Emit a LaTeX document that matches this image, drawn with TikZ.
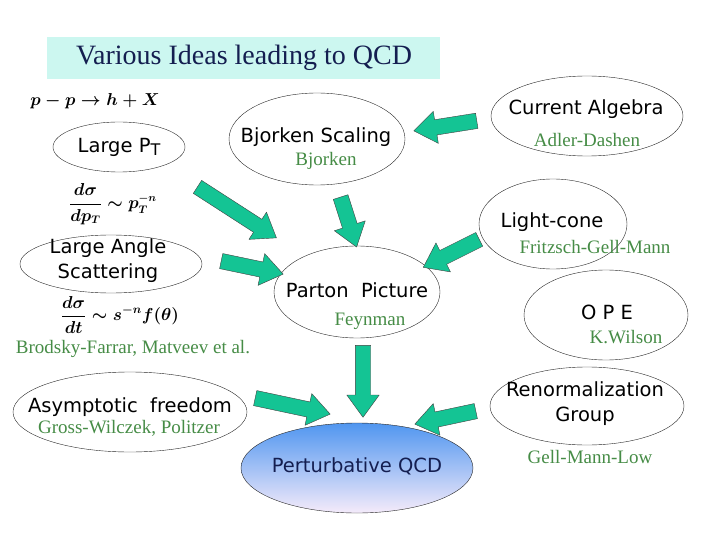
\documentclass[tikz,border=0pt]{standalone}
\usepackage{fontspec}
\setmainfont{Liberation Serif}
\setsansfont{DejaVu Sans}
\usetikzlibrary{shapes.geometric,shapes.arrows,calc}
\definecolor{titlebg}{RGB}{204,247,240}
\definecolor{titleink}{RGB}{20,30,80}
\definecolor{namegreen}{RGB}{70,140,70}
\definecolor{arrowgreen}{RGB}{20,196,148}
\definecolor{qcdtop}{RGB}{80,150,240}
\definecolor{qcdbottom}{RGB}{245,235,250}
% fat block arrow from #1 to #2
\newcommand\fatarrow[2]{\path let \p1=(#1), \p2=(#2), \n1={atan2(\y2-\y1,\x2-\x1)}, \n2={veclen(\x2-\x1,\y2-\y1)} in node[fat, minimum height=\n2, rotate=\n1] at ($(\p1)!0.5!(\p2)$) {};}
\begin{document}
\begin{tikzpicture}[x=1pt, y=-1pt, line join=round,
	idea/.style={draw=black!85, ellipse, inner sep=0pt, thin},
	topic/.style={font=\sffamily\fontsize{19.5}{25}\selectfont, align=center},
	who/.style={font=\fontsize{19}{22}\selectfont, text=namegreen},
	formula/.style={font=\fontsize{16}{18}\selectfont\boldmath},
	fat/.style={single arrow, draw=black!75, fill=arrowgreen, inner xsep=0pt, inner ysep=7.5pt, single arrow head extend=8.5pt, single arrow tip angle=72}]
	\useasboundingbox (0,0) rectangle (720,540);
	% title
	\fill[titlebg] (47,37) rectangle (440,79);
	\node[font=\fontsize{28}{32}\selectfont, text=titleink] (title) at (244,58) {Various Ideas leading to QCD};
	% ellipses
	\node[idea, minimum width=132, minimum height=50] (lpt) at (119,147) {};
	\node[idea, minimum width=182, minimum height=58] (las) at (111,264) {};
	\node[idea, minimum width=176, minimum height=92] (bjs) at (317,139) {};
	\node[idea, minimum width=166, minimum height=92] (pp) at (357,292) {};
	\node[idea, minimum width=192, minimum height=80] (ca) at (587,116) {};
	\node[idea, minimum width=148, minimum height=90] (lc) at (553,224) {};
	\node[idea, minimum width=164, minimum height=90] (ope) at (606,315) {};
	\node[idea, minimum width=194, minimum height=78] (rg) at (587,406) {};
	\node[idea, minimum width=234, minimum height=80] (af) at (130,412) {};
	\node[idea, minimum width=232, minimum height=90, top color=qcdtop, bottom color=qcdbottom] (qcd) at (357,468) {};
	% labels
	\node[topic] (lpt-t) at (119,147) {Large P\raisebox{-0.35ex}{\fontsize{16}{16}\selectfont T}};
	\node[topic] (las-t) at (108,261) {Large Angle\\Scattering};
	\node[topic] (bjs-t) at (316,137) {Bjorken Scaling};
	\node[topic] (pp-t) at (357,290) {Parton\ \ Picture};
	\node[topic] (ca-t) at (586,109) {Current Algebra};
	\node[topic] (lc-t) at (552,222) {Light-cone};
	\node[topic] (ope-t) at (607,312) {O P E};
	\node[topic] (rg-t) at (585,404) {Renormalization\\Group};
	\node[topic] (af-t) at (130,407) {Asymptotic\ \ freedom};
	\node[topic, text=titleink] (qcd-t) at (357,466) {Perturbative QCD};
	% names
	\node[who] (bjs-n) at (326,161) {Bjorken};
	\node[who] (pp-n) at (370,321) {Feynman};
	\node[who] (ca-n) at (587,140) {Adler-Dashen};
	\node[who] (lc-n) at (595,247) {Fritzsch-Gell-Mann};
	\node[who] (ope-n) at (626,337) {K.Wilson};
	\node[who] (af-n) at (129,428) {Gross-Wilczek, Politzer};
	\node[who] (rg-n) at (590,457) {Gell-Mann-Low};
	\node[who] (las-n) at (133,349) {Brodsky-Farrar, Matveev et al.};
	% formulas
	\node[formula] (f1) at (95,101) {$p-p\to h+X$};
	\node[formula] (f2) at (113,204) {$\displaystyle\frac{d\sigma}{dp_T}\sim p_T^{-n}$};
	\node[formula, font=\fontsize{17.5}{19}\selectfont\boldmath] (f3) at (120,315) {$\displaystyle\frac{d\sigma}{dt}\sim s^{-n}f(\theta)$};
	% arrow ends
	\coordinate (ca-out) at (482,120); \coordinate (bjs-in) at (419,130);
	\coordinate (lpt-out) at (193,184); \coordinate (pp-in1) at (272,235);
	\coordinate (las-out) at (216,260); \coordinate (pp-in2) at (278,273);
	\coordinate (bjs-out) at (339,192); \coordinate (pp-in3) at (355,242);
	\coordinate (lc-out) at (484,237); \coordinate (pp-in4) at (428,265);
	\coordinate (pp-out) at (363,340); \coordinate (qcd-in1) at (363,412);
	\coordinate (af-out) at (250,397); \coordinate (qcd-in2) at (325,413);
	\coordinate (rg-out) at (481,410); \coordinate (qcd-in3) at (420,423);
	\fatarrow{ca-out}{bjs-in}
	\fatarrow{lpt-out}{pp-in1}
	\fatarrow{las-out}{pp-in2}
	\fatarrow{bjs-out}{pp-in3}
	\fatarrow{lc-out}{pp-in4}
	\fatarrow{pp-out}{qcd-in1}
	\fatarrow{af-out}{qcd-in2}
	\fatarrow{rg-out}{qcd-in3}
\end{tikzpicture}
\end{document}
